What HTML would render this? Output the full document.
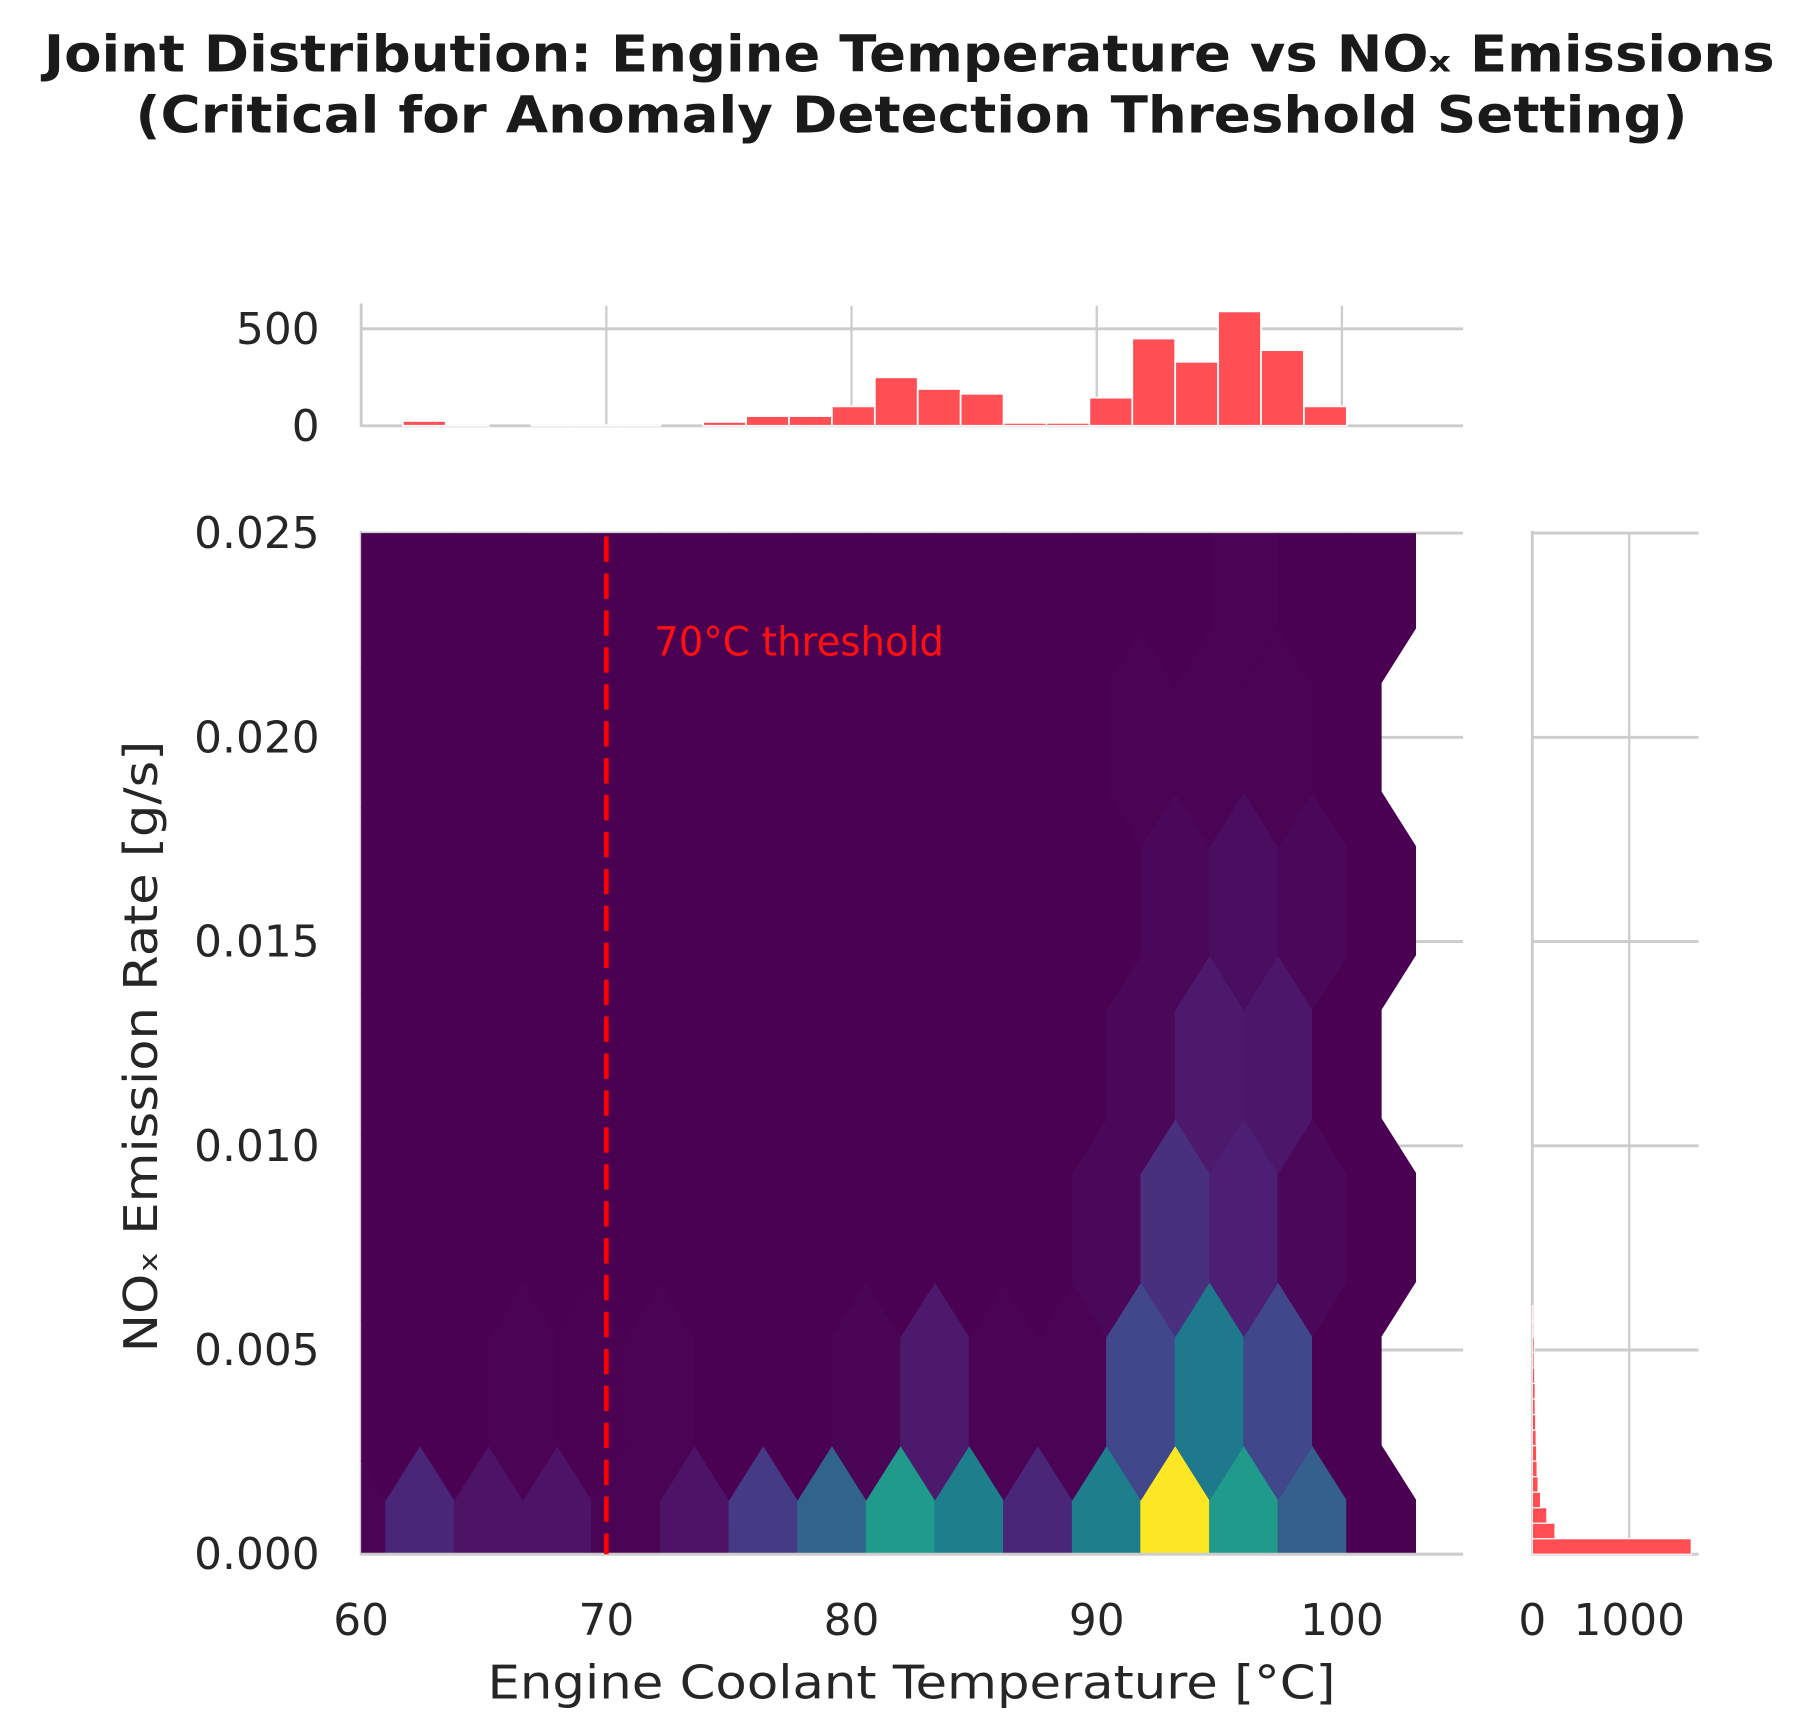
<!DOCTYPE html>
<html><head><meta charset="utf-8"><title>Joint Distribution</title>
<style>html,body{margin:0;padding:0;background:#fff;}svg{display:block;}</style></head>
<body>
<svg id="chart" width="1800" height="1725" viewBox="0 0 1800 1725" xmlns="http://www.w3.org/2000/svg" font-family="'DejaVu Sans','Liberation Sans',sans-serif">
<g id="root" transform="scale(1.153846)">
  <text x="788" y="62" text-anchor="middle" font-size="44" font-weight="bold" fill="#1a1a1a" textLength="1500" lengthAdjust="spacingAndGlyphs">Joint Distribution: Engine Temperature vs NOₓ Emissions</text>
  <text x="790" y="115" text-anchor="middle" font-size="44" font-weight="bold" fill="#1a1a1a" textLength="1345" lengthAdjust="spacingAndGlyphs">(Critical for Anomaly Detection Threshold Setting)</text>
  <defs><clipPath id="mainClip"><rect x="313" y="462" width="955" height="885"/></clipPath></defs>
  <g id="topHist"></g>
  <g id="main"></g>
  <g id="rightHist"></g>
  <text x="790" y="1472" text-anchor="middle" font-size="40" fill="#262626" textLength="735" lengthAdjust="spacingAndGlyphs">Engine Coolant Temperature [°C]</text>
  <text x="0" y="0" transform="translate(136,907) rotate(-90)" text-anchor="middle" font-size="40" fill="#262626" textLength="530" lengthAdjust="spacingAndGlyphs">NOₓ Emission Rate [g/s]</text>
</g>
</svg>
<script>
// ---- data ----
const tempHistCounts = [25,3,0,3,3,3,0,20,50,50,100,250,190,165,15,15,145,450,330,590,390,100];
const tempBinStart = 61.7;
const tempBinWidth = 1.75;
const noxHistCounts = [1640,234,150,85,60,50,45,40,35,30,30,25,20,20,15,15];
const noxBinWidth = 0.00038;
const hexXStartA = 59.6;
const hexXStartB = 58.2;
const hexSx = 2.8;
const hexSy = 0.0080;
const hexRowA0 = [7,84,42,42,7,42,126,224,392,294,84,294,700,392,210,0];
const hexRowB0 = [0,0,0,7,3,7,0,0,10,56,7,7,154,280,154,0];
const hexRowA1 = [0,0,0,0,0,0,0,0,0,0,0,14,105,70,14,0];
const hexRowB1 = [0,0,0,0,0,0,0,0,0,0,0,0,14,56,49,0];
const hexRowA2 = [0,0,0,0,0,0,0,0,0,0,0,0,14,28,14,0];
const hexRowB2 = [0,0,0,0,0,0,0,0,0,0,0,0,4,7,4,0];
const hexRowA3 = [0,0,0,0,0,0,0,0,0,0,0,0,0,4,0,0];
const hexRowB3 = [0,0,0,0,0,0,0,0,0,0,0,0,0,0,0,0];
const xTicks = [60,70,80,90,100];
const yTicks = [0,0.005,0.010,0.015,0.020,0.025];
const yTickLabels = ["0.000","0.005","0.010","0.015","0.020","0.025"];
const topHistTicks = [0,500];
const rightHistTicks = [0,1000];
const thresholdTemp = 70;

// ---- scales ----
const X = v => 313 + (v - 60) * 21.25;
const Y = v => 1347 - v / 0.025 * 885;
const HY = c => 369 - c / 500 * 84;
const HX = c => 1328 + c / 1000 * 84;
const NS = "http://www.w3.org/2000/svg";
function mk(tag, attrs, parent){const e=document.createElementNS(NS,tag);for(const k in attrs)e.setAttribute(k,attrs[k]);parent.appendChild(e);return e;}
const vir = ["#4b0152","#4c1f74","#434189","#355f8d","#1f798c","#21918c","#1fa088","#44bf70","#7ad151","#bddf26","#fde725"];
function viridis(t){t=Math.max(0,Math.min(1,t));const p=t*10,i=Math.min(9,Math.floor(p)),f=p-i;
 const a=vir[i],b=vir[i+1];const c=j=>Math.round(parseInt(a.substr(j,2),16)*(1-f)+parseInt(b.substr(j,2),16)*f);
 return "rgb("+c(1)+","+c(3)+","+c(5)+")";}
const grid = "#cccccc", tickCol = "#262626";

// ---- top histogram ----
const th = document.getElementById('topHist');
xTicks.forEach(t=>{ if(t>60){const l=mk('line',{x1:X(t),x2:X(t),y1:265,y2:369,stroke:grid,'stroke-width':2},th);
 
 }});
topHistTicks.forEach(t=>{const l=mk('line',{x1:313,x2:1268,y1:HY(t),y2:HY(t),stroke:grid,'stroke-width':2.5},th);
 
 
 const tx=mk('text',{x:277,y:HY(t)+13,'text-anchor':'end','font-size':38,fill:tickCol},th);tx.textContent=t;
 
 });
mk('line',{x1:313,x2:313,y1:263,y2:370,stroke:grid,'stroke-width':2.5},th);
tempHistCounts.forEach((c,i)=>{const x0=X(tempBinStart+i*tempBinWidth),x1=X(tempBinStart+(i+1)*tempBinWidth);
 const r=mk('rect',{x:x0,y:HY(c),width:x1-x0,height:369-HY(c),fill:'#ff4f55',stroke:'#fff','stroke-width':1.5,'fill-opacity':c<10?0.6:1},th);
 
 });

// ---- main hexbin ----
const m = document.getElementById('main');
yTicks.forEach((t,i)=>{const l=mk('line',{x1:313,x2:1268,y1:Y(t),y2:Y(t),stroke:grid,'stroke-width':2.5},m);
 
 
 const tx=mk('text',{x:277,y:Y(t)+13,'text-anchor':'end','font-size':38,fill:tickCol},m);tx.textContent=yTickLabels[i];
 
 });
xTicks.forEach(t=>{const tx=mk('text',{x:X(t),y:1417,'text-anchor':'middle','font-size':38,fill:tickCol},m);tx.textContent=t;
 
 });
mk('line',{x1:313,x2:313,y1:460,y2:1348,stroke:grid,'stroke-width':2.5},m);
const hg = mk('g',{'clip-path':'url(#mainClip)'},m);
const rows=[[hexRowA0,hexXStartA,0],[hexRowB0,hexXStartB,0.5],[hexRowA1,hexXStartA,1],[hexRowB1,hexXStartB,1.5],
 [hexRowA2,hexXStartA,2],[hexRowB2,hexXStartB,2.5],[hexRowA3,hexXStartA,3],[hexRowB3,hexXStartB,3.5]];
const maxC = Math.max(...rows.flatMap(r=>r[0]));
rows.forEach(([vals,x0,rj])=>{vals.forEach((c,i)=>{const cx=x0+i*hexSx, cy=rj*hexSy;
 const pts=[[cx+hexSx/2,cy-hexSy/6],[cx+hexSx/2,cy+hexSy/6],[cx,cy+hexSy/3],[cx-hexSx/2,cy+hexSy/6],[cx-hexSx/2,cy-hexSy/6],[cx,cy-hexSy/3]]
  .map(p=>X(p[0]).toFixed(1)+","+Y(p[1]).toFixed(1)).join(" ");
 const col=viridis(c/maxC);
 const h=mk('polygon',{points:pts,fill:col,stroke:col,'stroke-width':0.8},hg);
 
 });});
mk('line',{x1:313,x2:1268,y1:1347,y2:1347,stroke:grid,'stroke-width':2.5},m);
const th1=mk('line',{x1:X(thresholdTemp),x2:X(thresholdTemp),y1:465,y2:1347,stroke:'#ff0000','stroke-width':4,'stroke-dasharray':'22,10'},m);


const tl=mk('text',{x:567,y:568,'font-size':35,fill:'#ff1010',textLength:251,lengthAdjust:'spacingAndGlyphs'},m);tl.textContent='70°C threshold';



// ---- right histogram ----
const rh = document.getElementById('rightHist');
yTicks.forEach(t=>{const l=mk('line',{x1:1328,x2:1472,y1:Y(t),y2:Y(t),stroke:grid,'stroke-width':2.5},rh);
 
 });
rightHistTicks.forEach(t=>{ if(t>0){const l=mk('line',{x1:HX(t),x2:HX(t),y1:462,y2:1347,stroke:grid,'stroke-width':2},rh);
 
 }
 const tx=mk('text',{x:HX(t),y:1417,'text-anchor':'middle','font-size':38,fill:tickCol},rh);tx.textContent=t;
 
 });
mk('line',{x1:1328,x2:1328,y1:460,y2:1348,stroke:grid,'stroke-width':2.5},rh);
noxHistCounts.forEach((c,i)=>{const y0=Y(i*noxBinWidth),y1=Y((i+1)*noxBinWidth);
 const r=mk('rect',{x:1328,y:y1,width:HX(c)-1328,height:y0-y1,fill:'#ff4f55',stroke:'#fff','stroke-width':1},rh);
 
 });
</script>
</body></html>
